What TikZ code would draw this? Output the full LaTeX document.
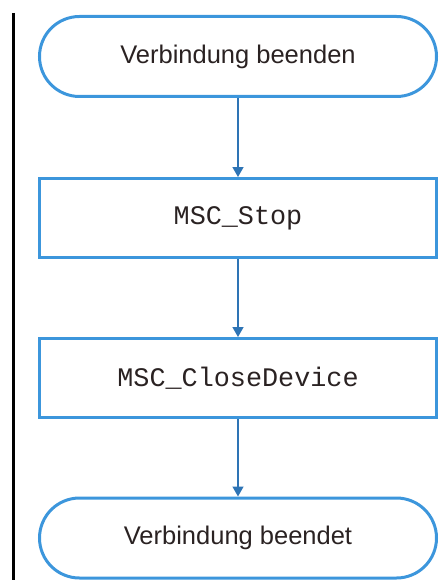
\documentclass[tikz,border=0pt]{standalone}
\usepackage{fontspec}
\setmainfont{Liberation Sans}
\setmonofont{Liberation Mono}
\usetikzlibrary{arrows.meta}
\definecolor{boxblue}{HTML}{3C96DC}
\definecolor{arrblue}{HTML}{2E74B5}
\definecolor{txt}{HTML}{2A2222}
\tikzset{
  term/.style={draw=boxblue, line width=3pt, rounded corners=40pt, minimum width=397pt, minimum height=80pt, inner sep=0pt, font=\fontsize{25.5}{29}\selectfont, text=txt},
  proc/.style={draw=boxblue, line width=3pt, minimum width=397pt, minimum height=79pt, inner sep=0pt, font=\ttfamily\fontsize{26.8}{30}\selectfont, text=txt},
  conn/.style={draw=arrblue, line width=1.5pt, -{Triangle[length=10pt,width=11pt]}},
}
\begin{document}
\begin{tikzpicture}[x=1pt,y=-1pt]
\useasboundingbox (0,0) rectangle (439,580);
\coordinate (lt) at (13.5,13);
\coordinate (lb) at (13.5,580);
\draw[line width=3pt, black] (lt) -- (lb);
\node[term] (a) at (238,56.5) {Verbindung beenden};
\node[proc] (b) at (238,218) {MSC\_Stop};
\node[proc] (c) at (238,378) {MSC\_CloseDevice};
\node[term] (d) at (238,538) {Verbindung beendet};
\draw[conn] (a) -- (b);
\draw[conn] (b) -- (c);
\draw[conn] (c) -- (d);
\end{tikzpicture}
\end{document}
